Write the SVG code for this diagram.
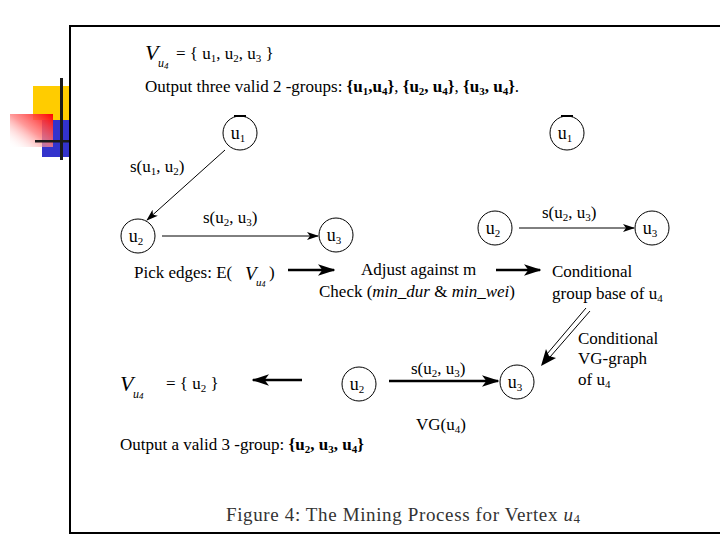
<svg xmlns="http://www.w3.org/2000/svg" width="720" height="540" viewBox="0 0 720 540">
<defs>
<linearGradient id="redg" x1="1" y1="0" x2="0" y2="1">
<stop offset="0" stop-color="#ff0000"/>
<stop offset="0.5" stop-color="#ff8080" stop-opacity="0.8"/>
<stop offset="1" stop-color="#ffffff" stop-opacity="0"/>
</linearGradient>
<marker id="ah" viewBox="0 0 12 10" refX="11" refY="5" markerWidth="12" markerHeight="10" markerUnits="userSpaceOnUse" orient="auto">
<path d="M0,1 L12,5 L0,9 L3,5 z" fill="#000"/>
</marker>
<marker id="ahb" viewBox="0 0 12 10" refX="11" refY="5" markerWidth="7" markerHeight="6" orient="auto">
<path d="M0,1 L12,5 L0,9 L3,5 z" fill="#000"/>
</marker>
</defs>
<style>
text{font-family:"Liberation Serif","Times New Roman",serif;fill:#000}
.t{font-size:17px}
.n{font-size:18px;text-anchor:middle}
.s{font-size:11px}
.b{font-weight:bold}
.i{font-style:italic}
.node{fill:#fff;stroke:#000;stroke-width:1}
.e{stroke:#000;stroke-width:1;fill:none;marker-end:url(#ah)}
.eb{stroke:#000;stroke-width:2.5;fill:none;marker-end:url(#ahb)}
.cap{font-size:19px;fill:#333}
</style>
<rect width="720" height="540" fill="#fff"/>
<g id="deco">
<rect x="33" y="86" width="37" height="34" fill="#ffcc00"/>
<rect x="42" y="120" width="28" height="37" fill="#3333cc"/>
<rect x="10" y="114" width="43" height="33" fill="url(#redg)"/>
<rect x="60" y="78" width="3" height="82" fill="#1a1a1a"/>
<rect x="35" y="140" width="35" height="2.5" fill="#1a1a1a"/>
</g>
<g id="frame" stroke="#000" stroke-width="2" fill="none">
<path d="M720,26 H70 V533 H720"/>
</g>
<g id="header">
<text x="145" y="60" class="i" font-size="22">V</text>
<text x="158" y="67" class="i" font-size="12">u<tspan font-size="9" dy="2">4</tspan></text>
<text x="176" y="59" font-size="17">= {  u<tspan class="s" dy="3">1</tspan><tspan dy="-3">, u</tspan><tspan class="s" dy="3">2</tspan><tspan dy="-3">, u</tspan><tspan class="s" dy="3">3</tspan><tspan dy="-3">  }</tspan></text>
<text x="145" y="92" class="t">Output three valid 2 -groups: <tspan class="b">{u</tspan><tspan class="b s" dy="3">1</tspan><tspan class="b" dy="-3">,u</tspan><tspan class="b s" dy="3">4</tspan><tspan class="b" dy="-3">}</tspan>, <tspan class="b">{u</tspan><tspan class="b s" dy="3">2</tspan><tspan class="b" dy="-3">, u</tspan><tspan class="b s" dy="3">4</tspan><tspan class="b" dy="-3">}</tspan>, <tspan class="b">{u</tspan><tspan class="b s" dy="3">3</tspan><tspan class="b" dy="-3">, u</tspan><tspan class="b s" dy="3">4</tspan><tspan class="b" dy="-3">}</tspan>.</text>
</g>
<g id="connectors">
<line class="e" x1="225" y1="150" x2="147" y2="220"/>
<line class="e" x1="162" y1="236" x2="318" y2="236"/>
<line class="e" x1="519" y1="228" x2="634" y2="228"/>
<line class="eb" x1="288" y1="270" x2="334" y2="270"/>
<line class="eb" x1="496" y1="270" x2="540" y2="270"/>
<g stroke="#000" stroke-width="1">
<line x1="590" y1="311" x2="550" y2="357"/>
<line x1="586" y1="308" x2="547" y2="354"/>
</g>
<path d="M541,366 L546,349 L549,356 L556,358 z" fill="#000"/>
<line class="eb" x1="389" y1="381" x2="498" y2="381"/>
<line class="eb" x1="302" y1="380" x2="253" y2="380"/>
</g>
<g id="n_u1a"><circle class="node" cx="240" cy="133" r="17"/><line x1="234" y1="116" x2="246" y2="116" stroke="#000" stroke-width="2"/><text x="238" y="139" class="n">u<tspan class="s" dy="3">1</tspan></text></g>
<g id="n_u2a"><circle class="node" cx="138" cy="236" r="17"/><text x="136" y="242" class="n">u<tspan class="s" dy="3">2</tspan></text></g>
<g id="n_u3a"><circle class="node" cx="336" cy="235" r="17"/><text x="334" y="241" class="n">u<tspan class="s" dy="3">3</tspan></text></g>
<g id="n_u1b"><circle class="node" cx="567" cy="133" r="17"/><line x1="561" y1="116" x2="573" y2="116" stroke="#000" stroke-width="2"/><text x="565" y="139" class="n">u<tspan class="s" dy="3">1</tspan></text></g>
<g id="n_u2b"><circle class="node" cx="495" cy="228" r="17"/><text x="493" y="234" class="n">u<tspan class="s" dy="3">2</tspan></text></g>
<g id="n_u3b"><circle class="node" cx="652" cy="228" r="17"/><text x="650" y="234" class="n">u<tspan class="s" dy="3">3</tspan></text></g>
<g id="n_u2c"><circle class="node" cx="359" cy="384" r="17"/><text x="357" y="390" class="n">u<tspan class="s" dy="3">2</tspan></text></g>
<g id="n_u3c"><circle class="node" cx="517" cy="382" r="17"/><text x="515" y="388" class="n">u<tspan class="s" dy="3">3</tspan></text></g>
<g id="labels">
<text x="130" y="172" class="t">s(u<tspan class="s" dy="3">1</tspan><tspan dy="-3">, u</tspan><tspan class="s" dy="3">2</tspan><tspan dy="-3">)</tspan></text>
<text x="203" y="223" class="t">s(u<tspan class="s" dy="3">2</tspan><tspan dy="-3">, u</tspan><tspan class="s" dy="3">3</tspan><tspan dy="-3">)</tspan></text>
<text x="542" y="218" class="t">s(u<tspan class="s" dy="3">2</tspan><tspan dy="-3">, u</tspan><tspan class="s" dy="3">3</tspan><tspan dy="-3">)</tspan></text>
<text x="134" y="278" class="t">Pick edges: E(</text>
<text x="245" y="280" class="i" font-size="19">V</text>
<text x="256" y="286" class="i" font-size="11">u<tspan font-size="8" dy="1">4</tspan></text>
<text x="269" y="278" class="t">)</text>
<text x="361" y="275" class="t">Adjust against m</text>
<text x="319" y="297" class="t">Check (<tspan class="i">min_dur</tspan> &amp; <tspan class="i">min_wei</tspan>)</text>
<text x="552" y="277" class="t">Conditional</text>
<text x="552" y="299" class="t">group base of u<tspan class="s" dy="3">4</tspan></text>
<text x="578" y="344" class="t">Conditional</text>
<text x="578" y="364" class="t">VG-graph</text>
<text x="578" y="385" class="t">of u<tspan class="s" dy="3">4</tspan></text>
<text x="120" y="391" class="i" font-size="22">V</text>
<text x="133" y="398" class="i" font-size="12">u<tspan font-size="9" dy="1">4</tspan></text>
<text x="166" y="389" class="t">= { u<tspan class="s" dy="3">2</tspan><tspan dy="-3"> }</tspan></text>
<text x="411" y="374" class="t">s(u<tspan class="s" dy="3">2</tspan><tspan dy="-3">, u</tspan><tspan class="s" dy="3">3</tspan><tspan dy="-3">)</tspan></text>
<text x="416" y="430" class="t">VG(u<tspan class="s" dy="3">4</tspan><tspan dy="-3">)</tspan></text>
<text x="120" y="450" class="t">Output a valid 3 -group: <tspan class="b">{u</tspan><tspan class="b s" dy="3">2</tspan><tspan class="b" dy="-3">, u</tspan><tspan class="b s" dy="3">3</tspan><tspan class="b" dy="-3">, u</tspan><tspan class="b s" dy="3">4</tspan><tspan class="b" dy="-3">}</tspan></text>
<text x="226" y="521" class="cap" textLength="354" lengthAdjust="spacing">Figure 4:  The Mining Process for Vertex <tspan class="i">u</tspan><tspan font-size="13" dy="2">4</tspan></text>
</g>
</svg>
